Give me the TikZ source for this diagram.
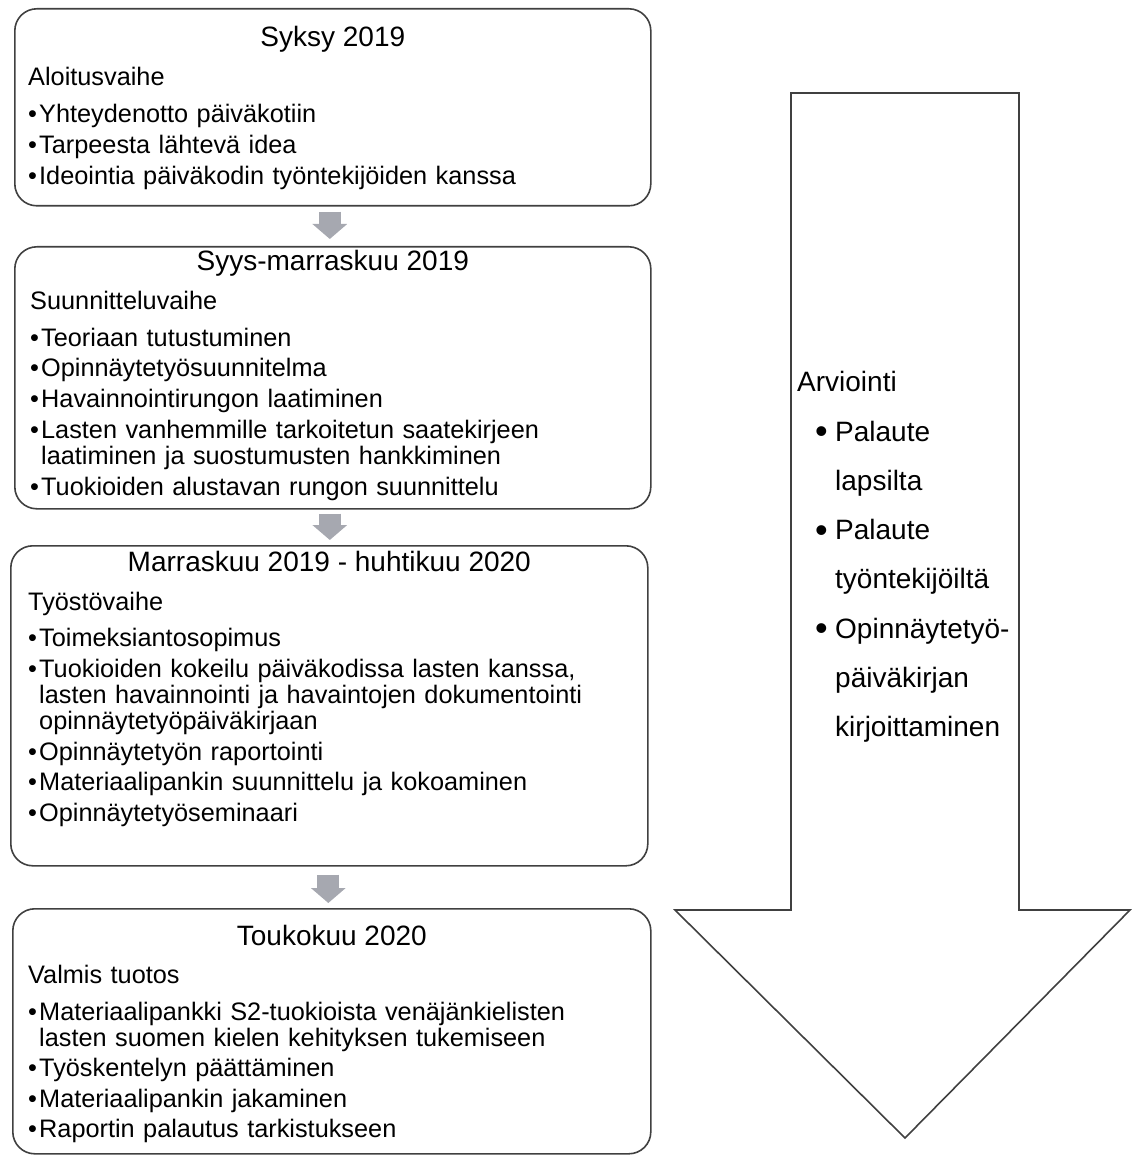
\documentclass[tikz,border=0pt]{standalone}
\usepackage{fontspec}
\setmainfont{Liberation Sans}
\usetikzlibrary{positioning,arrows.meta}

\definecolor{framegray}{RGB}{64,64,64}
\definecolor{arrowgray}{RGB}{166,168,176}

\tikzset{
  phasebox/.style={draw=framegray, line width=1.6pt, rounded corners=22pt,
    anchor=north west, inner sep=0pt},
  phasetitle/.style={anchor=base, inner sep=0pt, font=\fontsize{28}{28}\selectfont},
  phasetext/.style={anchor=base west, inner sep=0pt, align=left, text width=600pt,
    font=\fontsize{25.3}{26}\selectfont},
  steparrow/.style={draw=arrowgray, line width=22pt, -{Triangle[length=15pt,width=34pt]}}
}

\newcommand{\bul}{\makebox[11pt][l]{•}}
\newcommand{\nobul}{\hphantom{\bul}}
\newcommand{\bigbul}{\hspace*{18pt}\makebox[20pt][l]{\raisebox{-2.5pt}{\fontsize{36}{30}\selectfont •}}}

\begin{document}
\begin{tikzpicture}[x=1pt,y=-1pt]
\useasboundingbox (0,0) rectangle (1131,1155);

% Draw the four phase boxes.
\node[phasebox, minimum width=636pt, minimum height=197pt] (syksy) at (14,8) {};
\node[phasebox, minimum width=636pt, minimum height=262pt] (syys) at (14,246) {};
\node[phasebox, minimum width=637pt, minimum height=320pt] (marras) at (10,545) {};
\node[phasebox, minimum width=638pt, minimum height=245pt] (touko) at (12,908) {};

\node[phasetitle] (syksyt) at ([yshift=-38.5pt]syksy.north) {Syksy 2019};
\node[phasetext] (syksyx) at ([xshift=14pt,yshift=-78pt]syksy.north west) {Aloitusvaihe\\[10.5pt]
\bul Yhteydenotto päiväkotiin\\[4.8pt]
\bul Tarpeesta lähtevä idea\\[4.8pt]
\bul Ideointia päiväkodin työntekijöiden kanssa};

\node[phasetitle] (syyst) at ([yshift=-24.7pt]syys.north) {Syys-marraskuu 2019};
\node[phasetext] (syysx) at ([xshift=16pt,yshift=-63pt]syys.north west) {Suunnitteluvaihe\\[11pt]
\bul Teoriaan tutustuminen\\[4.8pt]
\bul Opinnäytetyösuunnitelma\\[4.8pt]
\bul Havainnointirungon laatiminen\\[4.8pt]
\bul Lasten vanhemmille tarkoitetun saatekirjeen\\
\nobul laatiminen ja suostumusten hankkiminen\\[4.8pt]
\bul Tuokioiden alustavan rungon suunnittelu};

\node[phasetitle] (marrast) at ([yshift=-26.7pt]marras.north) {Marraskuu 2019 - huhtikuu 2020};
\node[phasetext] (marrasx) at ([xshift=18pt,yshift=-65pt]marras.north west) {Työstövaihe\\[10pt]
\bul Toimeksiantosopimus\\[5pt]
\bul Tuokioiden kokeilu päiväkodissa lasten kanssa,\\
\nobul lasten havainnointi ja havaintojen dokumentointi\\
\nobul opinnäytetyöpäiväkirjaan\\[5pt]
\bul Opinnäytetyön raportointi\\[4.5pt]
\bul Materiaalipankin suunnittelu ja kokoaminen\\[4.5pt]
\bul Opinnäytetyöseminaari};

\node[phasetitle] (toukot) at ([yshift=-37pt]touko.north) {Toukokuu 2020};
\node[phasetext] (toukox) at ([xshift=16pt,yshift=-75pt]touko.north west) {Valmis tuotos\\[11pt]
\bul Materiaalipankki S2-tuokioista venäjänkielisten\\
\nobul lasten suomen kielen kehityksen tukemiseen\\[4.5pt]
\bul Työskentelyn päättäminen\\[4.5pt]
\bul Materiaalipankin jakaminen\\[4.5pt]
\bul Raportin palautus tarkistukseen};

% Small arrows between the phases.
\draw[steparrow, shorten <=5pt, shorten >=7pt] ([xshift=-3pt]syksy.south) -- ([xshift=-3pt]syys.north);
\draw[steparrow, shorten <=4pt, shorten >=5pt] ([xshift=-3pt]syys.south) -- ([xshift=-3pt]syys.south |- marras.north);
\draw[steparrow, shorten <=8pt, shorten >=5pt] ([xshift=-1pt]marras.south) -- ([xshift=-1pt]marras.south |- touko.north);

% Big arrow on the right.
\draw[draw=framegray, line width=1.6pt] (791,93) -- (1019,93) -- (1019,910) -- (1130,910)
  -- (905,1138) -- (675,910) -- (791,910) -- cycle;

\node[anchor=base west, inner sep=0pt, align=left, text width=320pt,
  font=\fontsize{28}{49.3}\selectfont] (arvi) at (797,391.7) {Arviointi\\
\bigbul Palaute\\
\hspace*{38pt}lapsilta\\
\bigbul Palaute\\
\hspace*{38pt}työntekijöiltä\\
\bigbul Opinnäytetyö-\\
\hspace*{38pt}päiväkirjan\\
\hspace*{38pt}kirjoittaminen};

\end{tikzpicture}
\end{document}
